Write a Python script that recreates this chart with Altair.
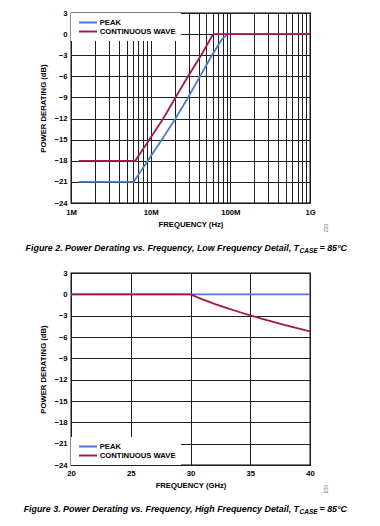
import altair as alt
import pandas as pd

# ---------------- data ----------------
series_names = ["PEAK", "CONTINUOUS WAVE"]
series_colors = ["#4a7bd0", "#a3184a"]

# Figure 2: low frequency detail (Hz, dB)
lf_peak_hz = [1.25e6, 6.1e6, 9.2e6, 13.8e6, 20.5e6, 29.5e6, 41.6e6, 58.8e6, 80e6, 93e6, 1e9]
lf_peak_db = [-21, -21, -18, -15, -12, -9, -6, -3, -0.6, 0, 0]
lf_cw_hz = [1.25e6, 6.4e6, 9.6e6, 14.4e6, 20.5e6, 29.5e6, 43e6, 61e6, 1e9]
lf_cw_db = [-18, -18, -15, -12, -9, -6, -3, 0, 0]

# Figure 3: high frequency detail (GHz, dB)
hf_peak_ghz = [20, 30, 40]
hf_peak_db = [0, 0, 0]
hf_cw_ghz = [20, 30, 31, 32, 33, 34, 35, 36, 37, 38, 39, 40]
hf_cw_db = [0, 0, -0.7, -1.35, -1.9, -2.45, -2.95, -3.45, -3.9, -4.35, -4.8, -5.2]

y_ticks = [3, 0, -3, -6, -9, -12, -15, -18, -21, -24]
lf_grid_hz = [1e6, 2e6, 3e6, 4e6, 5e6, 6e6, 7e6, 8e6, 9e6,
              1e7, 2e7, 3e7, 4e7, 5e7, 6e7, 7e7, 8e7, 9e7,
              1e8, 2e8, 3e8, 4e8, 5e8, 6e8, 7e8, 8e8, 9e8, 1e9]
lf_label_values = [1e6, 1e7, 1e8, 1e9]
lf_label_texts = ["1M", "10M", "100M", "1G"]
hf_ticks = [20, 25, 30, 35, 40]

captions = [
    ("Figure 2. Power Derating vs. Frequency, Low Frequency Detail, T", "CASE", "= 85°C", "002"),
    ("Figure 3. Power Derating vs. Frequency, High Frequency Detail, T", "CASE", "= 85°C", "003"),
]

# ---------------- styling ----------------
FONT = "Liberation Sans"
CAP_FONT = "Liberation Sans"
FS = 7.7
W = 239
H1 = 190
H2 = 192

lf_df = pd.DataFrame(
    {"freq": lf_peak_hz + lf_cw_hz,
     "db": lf_peak_db + lf_cw_db,
     "series": [series_names[0]] * len(lf_peak_hz) + [series_names[1]] * len(lf_cw_hz)}
)
hf_df = pd.DataFrame(
    {"freq": hf_peak_ghz + hf_cw_ghz,
     "db": hf_peak_db + hf_cw_db,
     "series": [series_names[0]] * len(hf_peak_ghz) + [series_names[1]] * len(hf_cw_ghz)}
)

y_label_expr = "datum.value < 0 ? '\u2212' + abs(datum.value) : '' + datum.value"

lf_label_expr = " : ".join(
    f"datum.value == {int(v)} ? '{t}'" for v, t in zip(lf_label_values, lf_label_texts)
) + " : ''"


def axis_common(**kw):
    return alt.Axis(
        grid=True, gridColor="#1e1e1e", gridWidth=1, gridOpacity=1,
        ticks=False, domain=False, labelFlush=False,
        labelFont=FONT, labelFontSize=FS, labelFontWeight="bold", labelColor="black",
        titleFont=FONT, titleFontSize=FS, titleFontWeight="bold", titleColor="black",
        **kw,
    )


def legend(orient):
    return alt.Legend(
        orient=orient, title=None, offset=0, padding=5,
        fillColor="white",
        symbolType="M-0.43,0H4.71", symbolSize=49, symbolStrokeWidth=2,
        labelFont=FONT, labelFontSize=FS, labelFontWeight="bold", labelColor="black",
        rowPadding=0, labelOffset=14.7,
    )


def text_layer(txt, x, y, size, align="left", weight="bold", style="italic",
               angle=0, color="black", font=CAP_FONT):
    return alt.Chart(pd.DataFrame({"t": [txt]})).mark_text(
        align=align, baseline="middle", fontSize=size, fontWeight=weight,
        fontStyle=style, font=font, color=color, angle=angle,
    ).encode(x=alt.value(x), y=alt.value(y), text="t:N")


def build(df, x_enc_kwargs, legend_orient, cap, cap_y, code_y, height):
    color = alt.Color(
        "series:N",
        scale=alt.Scale(domain=series_names, range=series_colors),
        legend=legend(legend_orient),
    )
    y = alt.Y("db:Q", scale=alt.Scale(domain=[-24, 3], nice=False),
              axis=axis_common(values=y_ticks, labelExpr=y_label_expr,
                               title="POWER DERATING (dB)", labelPadding=4, titlePadding=6))
    x = alt.X("freq:Q", **x_enc_kwargs)
    layers = []
    for name in series_names:
        layers.append(
            alt.Chart(df).transform_filter(alt.datum.series == name)
            .mark_line(strokeWidth=1.8, clip=True)
            .encode(x=x, y=y, color=color)
        )
    main, sub, tail, code = cap
    layers.append(text_layer(main, 228, cap_y, 8.9, align="right"))
    layers.append(text_layer(sub, 228.5, cap_y + 3, 6.5))
    layers.append(text_layer(tail, 248.5, cap_y, 8.9))
    layers.append(text_layer(code, 255, code_y, 5, weight="normal", style="normal",
                             angle=90, color="#666666", font=FONT))
    # invisible anchor for the page's top-left corner
    layers.append(
        alt.Chart(pd.DataFrame({"a": [0]})).mark_rule(strokeOpacity=0, strokeWidth=0)
        .encode(x=alt.value(-62), x2=alt.value(-61), y=alt.value(-4), y2=alt.value(-3))
    )
    return alt.layer(*layers).properties(width=W, height=height)


top = build(
    lf_df,
    dict(scale=alt.Scale(type="log", domain=[1e6, 1e9], nice=False),
         axis=axis_common(values=lf_grid_hz, labelExpr=lf_label_expr,
                          title="FREQUENCY (Hz)", labelPadding=5, titlePadding=5,
                          labelOverlap=False)),
    "top-left", captions[0], 234.7, 210.7, H1,
)
bottom = build(
    hf_df,
    dict(scale=alt.Scale(domain=[20, 40], nice=False),
         axis=axis_common(values=hf_ticks, title="FREQUENCY (GHz)",
                          labelPadding=4, titlePadding=5)),
    "bottom-left", captions[1], 236, 212, H2,
)

chart = (
    alt.vconcat(top, bottom, spacing=70, bounds="flush")
    .resolve_scale(color="independent")
    .properties(padding=0, background="white")
    .configure_view(stroke="black", strokeWidth=1.3)
)

chart.save("out.html", embed_options={"renderer": "svg", "actions": False})
